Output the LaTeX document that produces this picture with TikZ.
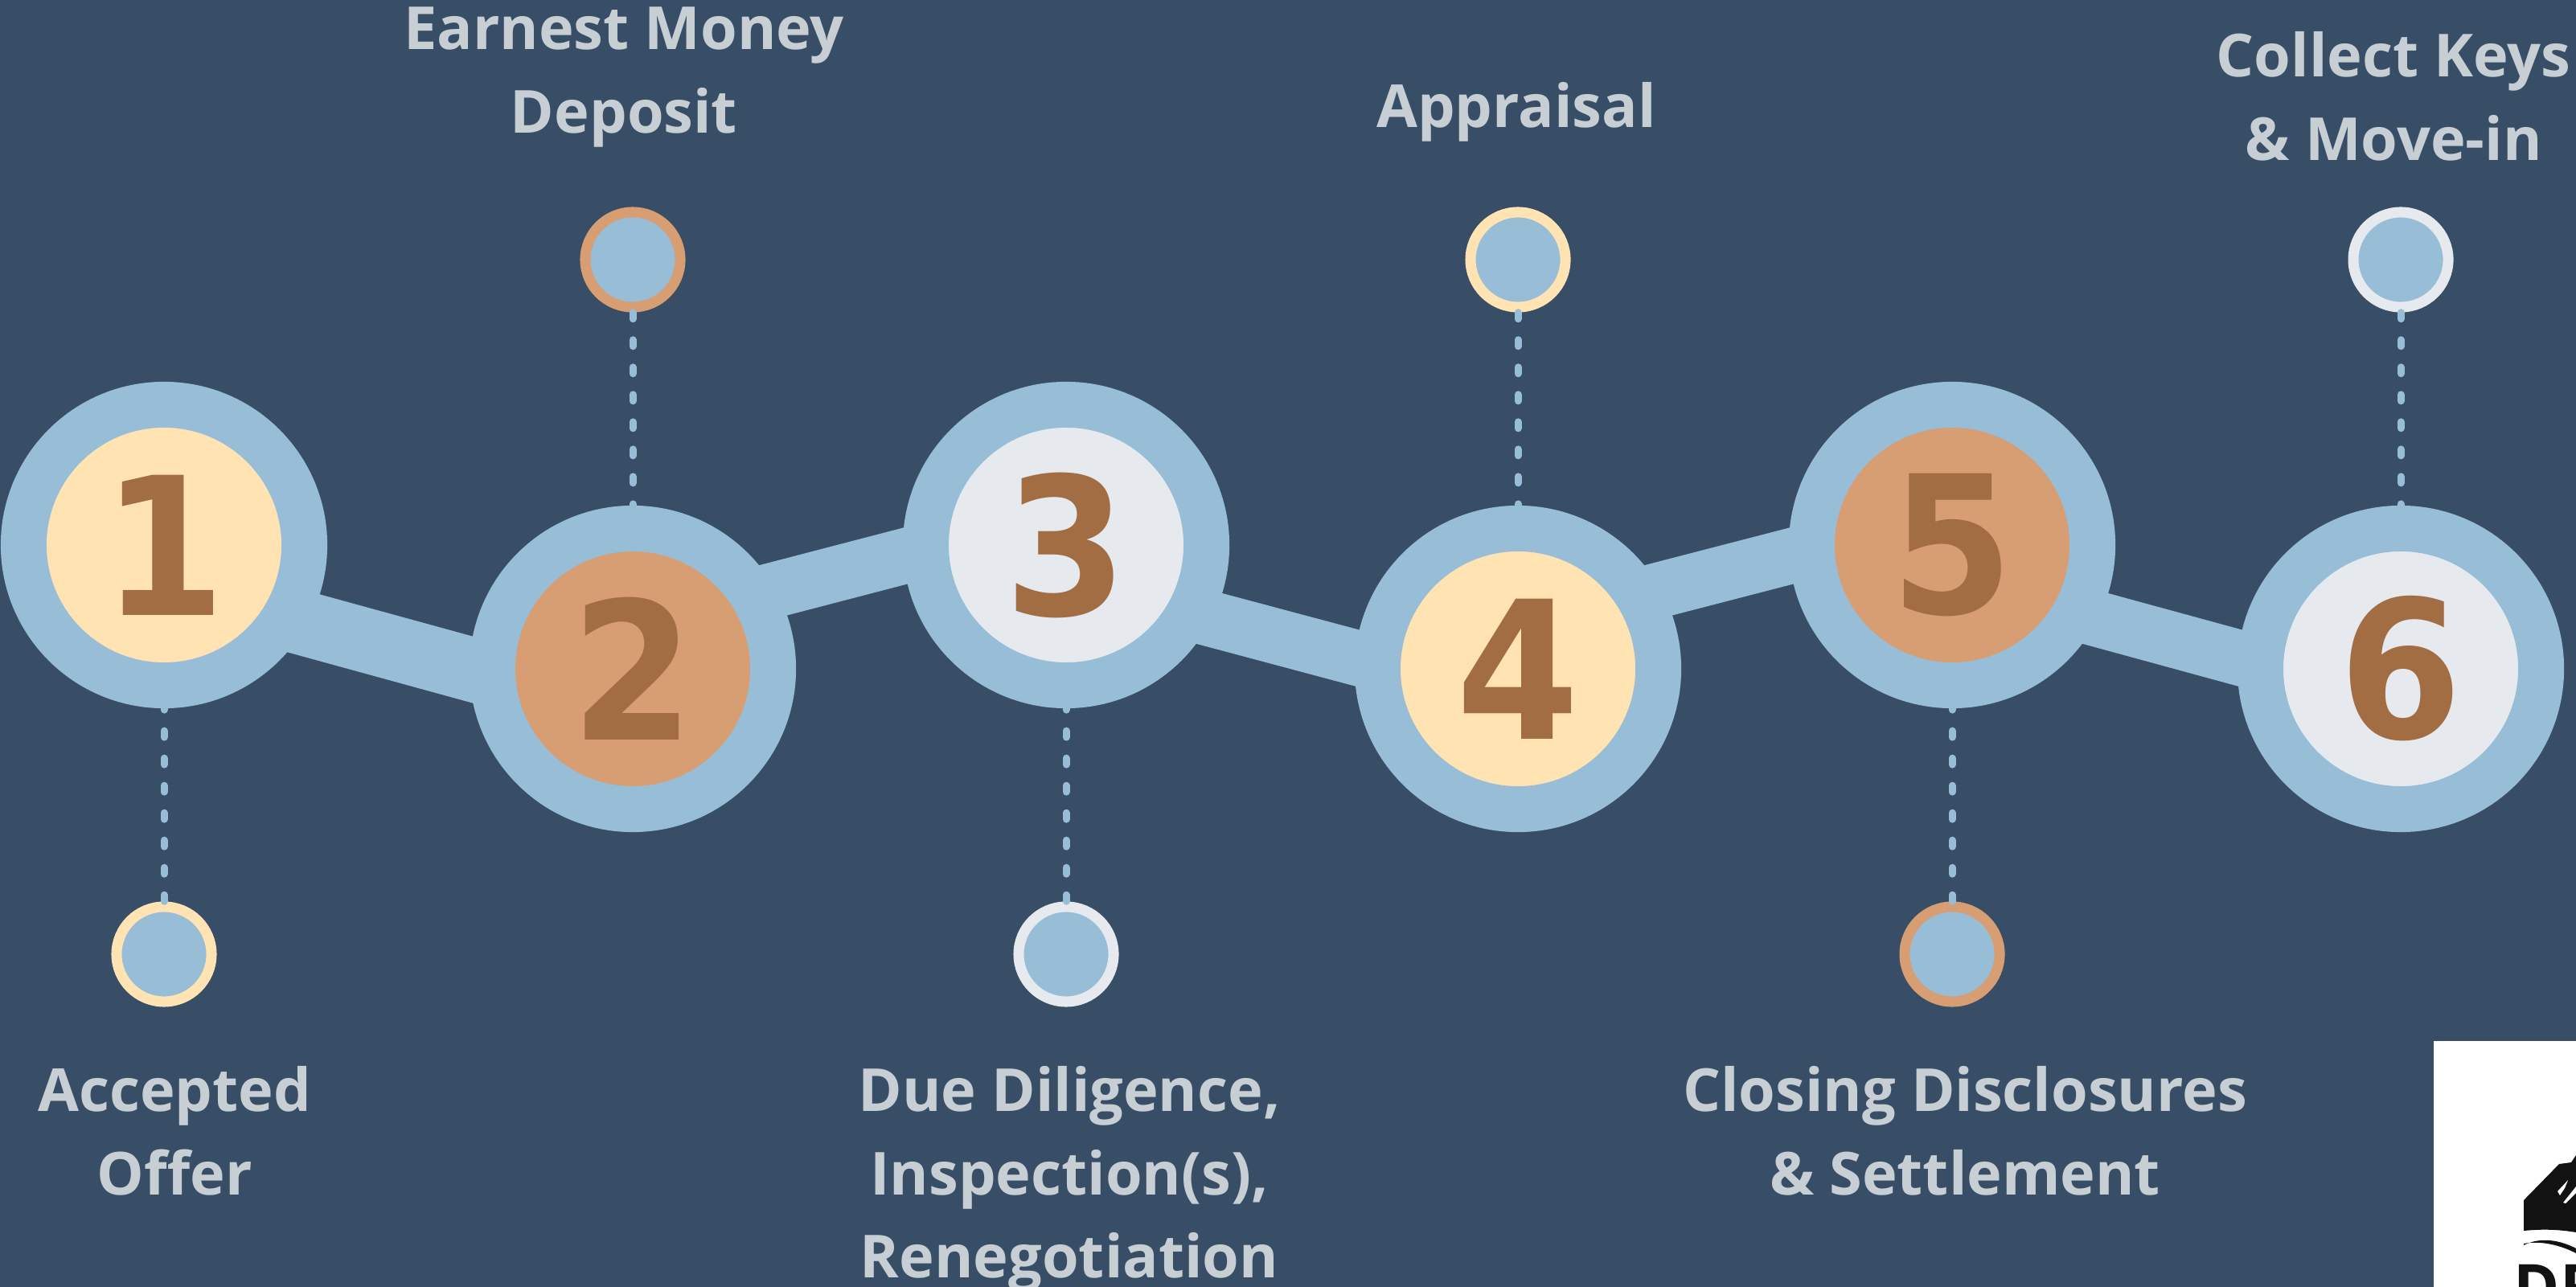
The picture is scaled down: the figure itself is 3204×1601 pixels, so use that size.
\documentclass[tikz,border=0pt]{standalone}
\usepackage{fontspec}
\setmainfont{Open Sans}
\newfontfamily\digitfont[FakeStretch=0.92]{DejaVu Sans}
\definecolor{pagebg}{HTML}{384E66}
\definecolor{ringblue}{HTML}{97BDD7}
\definecolor{creamfill}{HTML}{FFE3B3}
\definecolor{orangefill}{HTML}{D89E73}
\definecolor{greyfill}{HTML}{E6EAEF}
\definecolor{digitbrown}{HTML}{A26D43}
\definecolor{labelgrey}{HTML}{C7CED4}
\tikzset{
	stepdisc/.style={circle, draw=ringblue, line width=0.57cm, minimum size=3.49cm, inner sep=0pt, text=digitbrown, font=\digitfont\bfseries\fontsize{68}{68}\selectfont},
	stepdot/.style={circle, fill=ringblue, line width=0.13cm, minimum size=1.18cm, inner sep=0pt},
	steplink/.style={ringblue, line width=0.69cm, shorten <=-0.2cm, shorten >=-0.2cm},
	stemline/.style={ringblue, line width=0.09cm, line cap=round, dash pattern=on 0.08cm off 0.26cm, dash phase=0.06cm},
	steplabel/.style={text=labelgrey, align=center, inner sep=0pt, font=\bfseries\fontsize{21}{29.5}\selectfont}
}
\begin{document}
\begin{tikzpicture}[x=0.01cm, y=-0.01cm]
	\useasboundingbox (0,0) rectangle (3204,1601);
	\clip (0,0) rectangle (3204,1601);
	\fill[pagebg] (0,0) rectangle (3204,1601);
	\node[stepdisc, fill=creamfill] (step1) at (204,678) {1};
	\node[stepdisc, fill=orangefill] (step2) at (787,832) {2};
	\node[stepdisc, fill=greyfill] (step3) at (1326,678) {3};
	\node[stepdisc, fill=creamfill] (step4) at (1888,832) {4};
	\node[stepdisc, fill=orangefill] (step5) at (2428,678) {5};
	\node[stepdisc, fill=greyfill] (step6) at (2986,832) {6};
	\draw[steplink, line width=0.8cm] (step1.-29.5) -- (step2.180);
	\draw[steplink] (step2.29) -- (step3.184);
	\draw[steplink] (step3.-27) -- (step4.176);
	\draw[steplink] (step4.29) -- (step5.184);
	\draw[steplink] (step5.-27) -- (step6.176);
	\node[stepdot, draw=creamfill] (dot1) at (204,1187) {};
	\node[stepdot, draw=orangefill] (dot2) at (787,323) {};
	\node[stepdot, draw=greyfill] (dot3) at (1326,1187) {};
	\node[stepdot, draw=creamfill] (dot4) at (1888,323) {};
	\node[stepdot, draw=orangefill] (dot5) at (2428,1187) {};
	\node[stepdot, draw=greyfill] (dot6) at (2986,323) {};
	\draw[stemline] (step1) -- (dot1);
	\draw[stemline] (step2) -- (dot2);
	\draw[stemline] (step3) -- (dot3);
	\draw[stemline] (step4) -- (dot4);
	\draw[stemline] (step5) -- (dot5);
	\draw[stemline] (step6) -- (dot6);
	\node[steplabel] (label1) at (217,1407) {Accepted\\Offer};
	\node[steplabel] (label2) at (776,96) {Earnest Money\\Deposit};
	\node[steplabel] (label3) at (1330,1467) {Due Diligence,\\Inspection(s),\\Renegotiation};
	\node[steplabel] (label4) at (1886,139) {Appraisal};
	\node[steplabel] (label5) at (2444,1407) {Closing Disclosures\\\& Settlement};
	\node[steplabel] (label6) at (2977,120) {Collect Keys\\\& Move-in};
	\fill[white] (3027,1295) rectangle (3204,1601);
	\fill[black!93] (3139,1493) -- (3183,1448) -- (3198,1446) -- (3204,1437) -- (3204,1533) .. controls (3180,1529) and (3160,1529) .. (3139,1531) -- cycle;
	\fill[white] (3181,1482) -- (3194,1468) -- (3190,1478) -- (3184,1487) -- cycle;
	\fill[white] (3188,1496) -- (3204,1476) -- (3204,1484) -- (3191,1497) -- cycle;
	\fill[black!93] (3139,1549) .. controls (3160,1538) and (3185,1543) .. (3204,1553) -- (3204,1559) .. controls (3185,1549) and (3160,1543) .. (3139,1547) -- cycle;
	\node[anchor=north west, inner sep=0pt, text=black!93, font=\bfseries\fontsize{22}{22}\selectfont] (logotext) at (3126,1573) {DR};
\end{tikzpicture}
\end{document}
